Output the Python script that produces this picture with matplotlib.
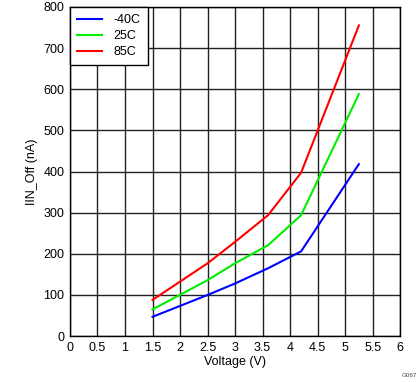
import matplotlib
matplotlib.use("Agg")
import matplotlib.pyplot as plt

plt.rcParams['font.family'] = ['Liberation Sans', 'DejaVu Sans']

voltage = [1.5, 2.5, 3.0, 3.6, 4.2, 5.25]
iin_m40 = [47, 100, 128, 165, 206, 418]
iin_25 = [65, 136, 177, 221, 294, 588]
iin_85 = [88, 177, 229, 294, 397, 755]
labels = ['-40C', '25C', '85C']
colors = ['#0000ff', '#00ee00', '#ff0000']

fig = plt.figure(figsize=(4.19, 3.82), dpi=100)
ax = fig.add_axes([0.167, 0.120, 0.788, 0.862])
for ys, lab, c in zip([iin_m40, iin_25, iin_85], labels, colors):
    ax.plot(voltage, ys, color=c, lw=1.5, label=lab)

ax.set_xlim(0, 6)
ax.set_ylim(0, 800)
ax.set_xticks([i * 0.5 for i in range(13)])
ax.set_xticklabels(['0', '0.5', '1', '1.5', '2', '2.5', '3', '3.5', '4', '4.5', '5', '5.5', '6'])
ax.set_yticks(range(0, 801, 100))
ax.grid(True, color='#222222', lw=1)
ax.set_axisbelow(True)
ax.tick_params(length=0, labelsize=9, pad=4)
for s in ax.spines.values():
    s.set_color('black')
    s.set_linewidth(1)
ax.set_xlabel('Voltage (V)', fontsize=9, labelpad=2)
ax.set_ylabel('IIN_Off (nA)', fontsize=9, labelpad=4)
leg = ax.legend(loc='upper left', fontsize=9, fancybox=False, framealpha=1,
                edgecolor='black', borderaxespad=0, handlelength=2.0,
                labelspacing=0.3, borderpad=0.6, handletextpad=0.9)
leg.get_frame().set_linewidth(1)
fig.text(0.995, 0.01, 'G067', fontsize=4.5, ha='right', va='bottom', color='#444444')
fig.savefig('out.png', dpi=100)
